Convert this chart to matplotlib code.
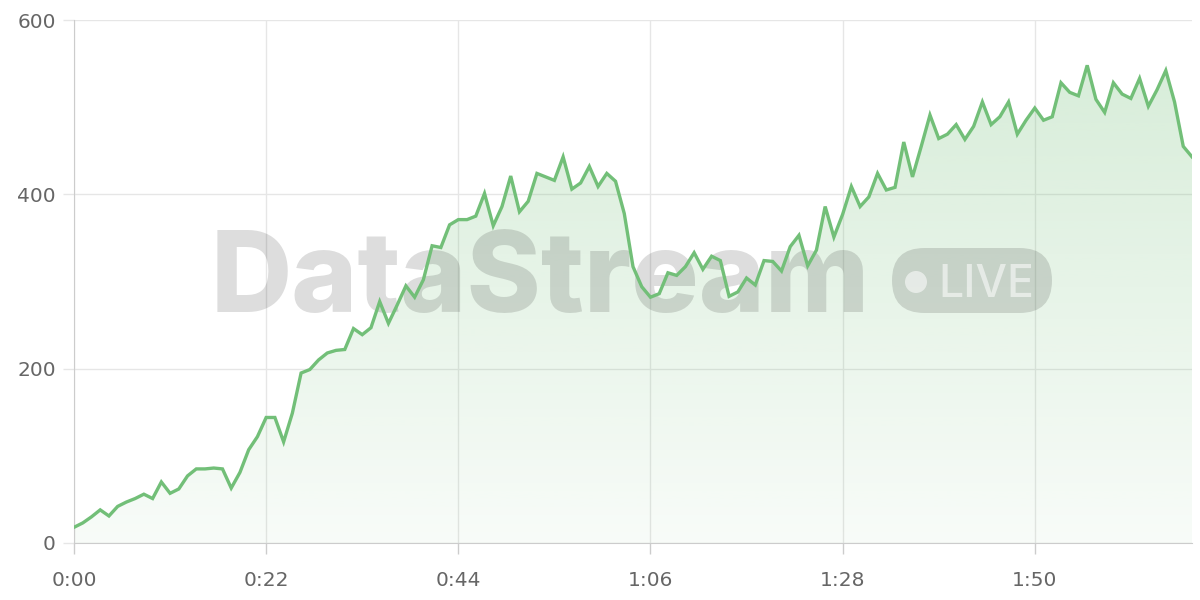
import matplotlib
matplotlib.use("Agg")
import matplotlib.pyplot as plt
import numpy as np
from matplotlib.patches import FancyBboxPatch, Ellipse
from matplotlib.colors import to_rgb

# ---- data (one sample per second) ----
values = [18, 23, 30, 38, 31, 42, 47, 51, 56, 51,
          70, 57, 62, 77, 85, 85, 86, 85, 63, 81,
          107, 122, 144, 144, 116, 149, 195, 199, 210, 218,
          221, 222, 246, 239, 247, 277, 252, 273, 295, 282,
          302, 341, 339, 365, 371, 371, 375, 401, 364, 386,
          421, 380, 392, 424, 420, 416, 443, 406, 413, 432,
          409, 424, 415, 378, 317, 294, 282, 286, 310, 307,
          317, 333, 314, 329, 324, 283, 288, 304, 296, 324,
          323, 312, 340, 353, 318, 336, 386, 351, 377, 409,
          386, 397, 424, 405, 408, 460, 420, 455, 491, 464,
          469, 480, 463, 478, 506, 480, 489, 506, 469, 485,
          499, 485, 489, 528, 517, 513, 548, 509, 494, 528,
          515, 510, 533, 501, 520, 542, 506, 455, 443]
seconds = list(range(len(values)))
x_ticks = [0, 22, 44, 66, 88, 110]
x_tick_labels = ["0:00", "0:22", "0:44", "1:06", "1:28", "1:50"]
y_ticks = [0, 200, 400, 600]

line_color = "#72bf78"
plt.rcParams['font.family'] = ['DejaVu Sans']

fig = plt.figure(figsize=(12, 6), dpi=100)
ax = fig.add_axes([74/1200, 1 - 543/600, (1192 - 74)/1200, (543 - 20)/600])

ax.set_xlim(0, seconds[-1])
ax.set_ylim(0, 600)

wm_alpha = 0.135
# watermark (figure coords), drawn inside the axes so the line sits on top
ax.text(540/1200, 1 - 312/600, "DataStream", fontsize=81, fontweight=800,
        family=['Inter', 'DejaVu Sans'], color='black', alpha=wm_alpha,
        ha='center', va='baseline', transform=fig.transFigure, zorder=2)
badge = FancyBboxPatch((892/1200, 1 - 313/600), 160/1200, 65/600,
                       boxstyle="round,pad=0,rounding_size=0.027",
                       transform=fig.transFigure, facecolor='black', alpha=wm_alpha,
                       edgecolor='none', zorder=2, mutation_aspect=2)
ax.add_artist(badge)
badge.set_clip_on(False)
dot = Ellipse((916/1200, 1 - 282/600), 22/1200, 22/600, transform=fig.transFigure,
              facecolor='white', alpha=0.55, edgecolor='none', zorder=2)
ax.add_artist(dot)
dot.set_clip_on(False)
ax.text(986/1200, 1 - 297/600, "LIVE", fontsize=32, fontweight=500,
        family=['Inter', 'DejaVu Sans'], color='white', alpha=0.55,
        ha='center', va='baseline', transform=fig.transFigure, zorder=2)

# gradient fill
rgb = to_rgb(line_color)
grad = np.zeros((256, 1, 4))
grad[:, 0, 0:3] = rgb
grad[:, 0, 3] = np.linspace(0.30, 0.05, 256)
poly = ax.fill_between(seconds, values, 0, color='none', linewidth=0)
im = ax.imshow(grad, aspect='auto', extent=[0, seconds[-1], 0, 600],
               origin='upper', zorder=1, interpolation='bilinear')
im.set_clip_path(poly.get_paths()[0], transform=ax.transData)

ax.plot(seconds, values, color=line_color, linewidth=2.4, zorder=3,
        solid_joinstyle='miter')

# axes styling
ax.set_xticks(x_ticks)
ax.set_xticklabels(x_tick_labels)
ax.set_yticks(y_ticks)
ax.grid(True, color='#e6e6e6', linewidth=1)
ax.set_axisbelow(True)
for s in ['top', 'right']:
    ax.spines[s].set_visible(False)
ax.spines['left'].set_color('#cccccc')
ax.spines['bottom'].set_color('#cccccc')
ax.tick_params(axis='both', colors='#e6e6e6', length=8, width=1,
               labelcolor='#666666', labelsize=14.5)
ax.tick_params(axis='x', pad=12, colors='#cccccc', labelcolor='#666666')
ax.tick_params(axis='y', pad=5)

fig.savefig("out.png", dpi=100)
